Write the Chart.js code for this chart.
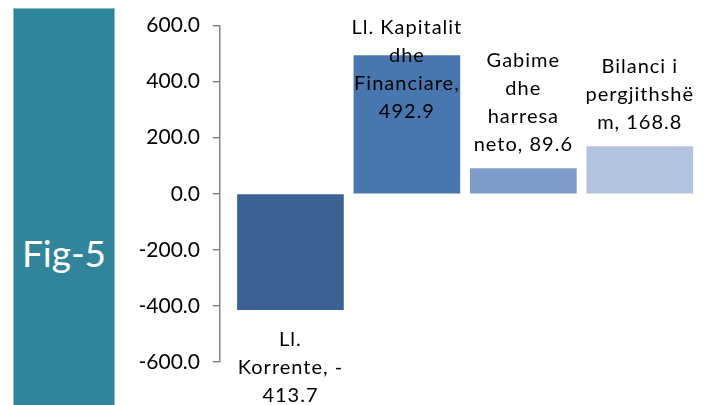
<!DOCTYPE html>
<html>
<head>
<meta charset="utf-8">
<script src="https://cdn.jsdelivr.net/npm/chart.js@4/dist/chart.umd.min.js"></script>
<style>
  body { margin: 0; background: #fff; }
  #wrap { position: relative; width: 710px; height: 405px; }
  #fig { position: absolute; left: 13px; top: 8px; width: 100px; height: 397px;
         background: #31859a; border: 1px solid #8dbcc8; border-bottom: none;
         color: #fff; font-family: Lato, sans-serif; font-size: 37px; }
  #fig span { position: absolute; left: 0; right: 0; top: 221px; text-align: center; }
  #canvas { position: absolute; left: 0; top: 0; }
</style>
</head>
<body>
<div id="wrap">
  <div id="fig"><span>Fig-5</span></div>
  <canvas id="canvas" width="710" height="405"></canvas>
</div>
<script>
var categories = ["Ll. Korrente", "Ll. Kapitalit dhe Financiare", "Gabime dhe harresa neto", "Bilanci i pergjithshëm"];
var values = [-413.7, 492.9, 89.6, 168.8];
var labelLines = [
  ["Ll.", "Korrente, -", "413.7"],
  ["Ll. Kapitalit", "dhe", "Financiare,", "492.9"],
  ["Gabime", "dhe", "harresa", "neto, 89.6"],
  ["Bilanci i", "pergjithshë", "m, 168.8"]
];
var yTicks = [-600, -400, -200, 0, 200, 400, 600];
var colors = ["#3b6294", "#4877b0", "#7e9cc9", "#b3c3df"];

var barLabels = {
  id: "barLabels",
  afterDatasetsDraw: function(chart) {
    var ctx = chart.ctx;
    var meta = chart.getDatasetMeta(0);
    var lineH = 28;
    ctx.save();
    ctx.font = "20px Lato, sans-serif";
    ctx.fillStyle = "#000";
    ctx.textAlign = "center";
    ctx.textBaseline = "middle";
    ctx.letterSpacing = "1px";
    meta.data.forEach(function(bar, i) {
      var lines = labelLines[i];
      var top;
      if (values[i] >= 0) {
        top = bar.y - 10 - lines.length * lineH;
        if (top < 14) top = 14;
      } else {
        top = bar.y + 16;
      }
      lines.forEach(function(t, k) {
        ctx.fillText(t, bar.x, top + lineH * k + lineH / 2);
      });
    });
    ctx.restore();
  }
};

new Chart(document.getElementById("canvas"), {
  type: "bar",
  data: {
    datasets: [{
      label: "Fig-5",
      data: values.map(function(v, i) { return { x: i, y: v }; }),
      backgroundColor: colors,
      borderWidth: 0,
      barThickness: 106
    }]
  },
  options: {
    responsive: false,
    animation: false,
    layout: { padding: { top: 18, right: 12, bottom: 43, left: 0 } },
    plugins: { legend: { display: false }, tooltip: { enabled: false } },
    scales: {
      x: { type: "linear", min: -0.605, max: 3.5, offset: false, display: false },
      y: {
        min: -600, max: 600,
        afterBuildTicks: function(scale) {
          scale.ticks = yTicks.map(function(v) { return { value: v }; });
        },
        afterFit: function(scale) { scale.width = 220; },
        ticks: {
          color: "#000",
          padding: 13,
          font: { family: "Lato, sans-serif", size: 21 },
          callback: function(v) { return v.toFixed(1); }
        },
        grid: { drawOnChartArea: false, tickLength: 7, color: "#868686", lineWidth: 1.5 },
        border: { color: "#868686", width: 1.5 }
      }
    }
  },
  plugins: [barLabels]
});
</script>
</body>
</html>
